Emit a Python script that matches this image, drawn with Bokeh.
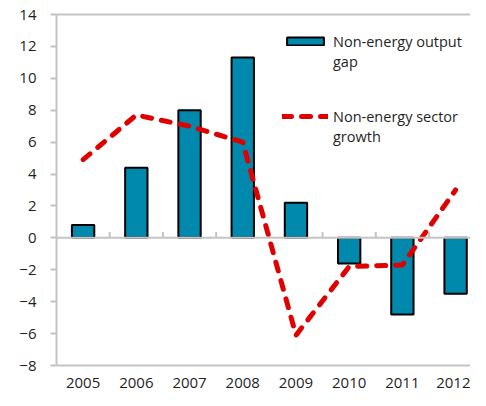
from bokeh.plotting import figure
from bokeh.models import (ColumnDataSource, FixedTicker, Span, Legend, LegendItem,
                          LinearAxis, Range1d)
from bokeh.embed import file_html
from bokeh.resources import INLINE

years = ["2005", "2006", "2007", "2008", "2009", "2010", "2011", "2012"]
output_gap = [0.8, 4.4, 8.0, 11.3, 2.2, -1.6, -4.8, -3.5]
sector_growth = [4.9, 7.7, 7.0, 6.0, -6.1, -1.8, -1.7, 3.0]
y_ticks = [-8, -6, -4, -2, 0, 2, 4, 6, 8, 10, 12, 14]
legend_lines_gap = ["Non-energy output", "gap"]
legend_lines_growth = ["Non-energy sector", "growth"]

FONT = "Open Sans"
GREY = "#c4c4c4"
TEAL = "#0089ac"
RED = "#e00000"
TXT = "#1f1f1f"

xpos = list(range(len(years)))
src = ColumnDataSource(dict(x=xpos, gap=output_gap, growth=sector_growth))

p = figure(width=470, height=390, output_backend="svg", toolbar_location=None,
           x_range=Range1d(-0.5, 7.28), y_range=Range1d(-8, 14),
           min_border_left=56, min_border_right=0, min_border_top=14,
           min_border_bottom=20, x_axis_location=None, y_axis_location=None)
p.outline_line_color = None
p.grid.visible = False
p.background_fill_color = "white"
p.border_fill_color = "white"

# left axis
yax = LinearAxis(ticker=FixedTicker(ticks=y_ticks))
yax.axis_line_color = GREY
yax.axis_line_width = 2
yax.major_tick_line_color = GREY
yax.major_tick_line_width = 2
yax.major_tick_out = 6
yax.major_tick_in = 0
yax.minor_tick_line_color = None
yax.major_label_text_font = FONT
yax.major_label_text_font_size = "15px"
yax.major_label_text_color = TXT
yax.major_label_standoff = 14
p.add_layout(yax, "left")

# bottom axis (frame line + year labels)
xax = LinearAxis(ticker=FixedTicker(ticks=xpos),
                 major_label_overrides={i: y for i, y in zip(xpos, years)})
xax.axis_line_color = GREY
xax.axis_line_width = 2
xax.major_tick_line_color = None
xax.minor_tick_line_color = None
xax.major_label_text_font = FONT
xax.major_label_text_font_size = "15px"
xax.major_label_text_color = TXT
xax.major_label_standoff = 6
p.add_layout(xax, "below")

# top frame line
tax = LinearAxis(ticker=FixedTicker(ticks=[]))
tax.axis_line_color = GREY
tax.axis_line_width = 2
tax.major_tick_line_color = None
tax.minor_tick_line_color = None
tax.major_label_text_font_size = "0px"
p.add_layout(tax, "above")

# zero line with category-boundary ticks
p.add_layout(Span(location=0, dimension="width", line_color=GREY, line_width=2))
bounds = [i + 0.5 for i in xpos]
p.segment(x0=bounds, y0=[0] * len(bounds), x1=bounds, y1=[0.37] * len(bounds),
          line_color=GREY, line_width=2)

bars = p.vbar(x="x", top="gap", bottom=0, width=0.42, source=src,
              fill_color=TEAL, line_color="black", line_width=2)
line = p.line(x="x", y="growth", source=src, line_color=RED, line_width=5,
              line_dash="9 10", line_cap="round", line_join="round")
# invisible renderer used for the second (continuation) line of each legend label
blank = p.line(x=[], y=[], line_alpha=0)


def make_legend(items, loc):
    lg = Legend(items=items, location=loc)
    lg.background_fill_alpha = 0
    lg.border_line_color = None
    lg.padding = 0
    lg.margin = 0
    lg.spacing = 0
    lg.glyph_width = 46
    lg.glyph_height = 10
    lg.label_height = 20
    lg.label_standoff = 5
    lg.label_text_font = FONT
    lg.label_text_font_size = "14.5px"
    lg.label_text_color = TXT
    lg.label_text_baseline = "middle"
    return lg


leg_a = make_legend([LegendItem(label=legend_lines_gap[0], renderers=[bars]),
                     LegendItem(label=legend_lines_gap[1], renderers=[blank])],
                    (226, 294))
leg_b = make_legend([LegendItem(label=legend_lines_growth[0], renderers=[line]),
                     LegendItem(label=legend_lines_growth[1], renderers=[blank])],
                    (226, 219))
p.add_layout(leg_a, "center")
p.add_layout(leg_b, "center")

open("out.html", "w").write(file_html(p, INLINE))
